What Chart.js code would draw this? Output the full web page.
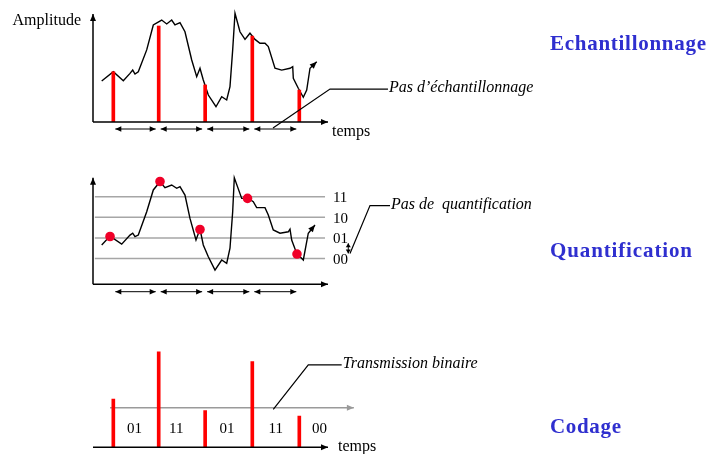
<!DOCTYPE html>
<html>
<head>
<meta charset="utf-8">
<script src="https://cdn.jsdelivr.net/npm/chart.js@4.4.0/dist/chart.umd.min.js"></script>
<style>
    html, body { margin: 0; padding: 0; background: #fff; overflow: hidden; }
    .panel { position: absolute; left: 0; width: 709px; }
</style>
</head>
<body>
<div class="panel" style="top:0;height:150px"><canvas id="chartEch"></canvas></div>
<div class="panel" style="top:150px;height:160px"><canvas id="chartQuant"></canvas></div>
<div class="panel" style="top:310px;height:144px"><canvas id="chartCode"></canvas></div>
<script>
    // temps en periodes d'echantillonnage, amplitude en pas de quantification
    var sampleTimes = [0.437, 1.413, 2.412, 3.426, 4.437];
    var sampleValues = [2.44, 4.66, 1.80, 4.17, 1.55];

    // signal analogique (panneau echantillonnage)
    var signalTimes = [0.187, 0.437, 0.652, 0.796, 0.854, 0.903, 0.974, 1.155, 1.297, 1.477, 1.585, 1.692, 1.763, 1.871, 1.978,
        2.123, 2.230, 2.301, 2.372, 2.480, 2.645, 2.768, 2.875, 2.946, 3.004, 3.054, 3.161, 3.269, 3.376, 3.484, 3.591, 3.699, 3.770, 3.914,
        4.058, 4.237, 4.295, 4.308, 4.415, 4.523, 4.596, 4.667, 4.811];
    var signalAmp = [1.99, 2.44, 2.00, 2.36, 2.52, 2.33, 2.44, 3.50, 4.71, 4.95, 4.76, 4.95, 4.71, 4.82, 4.38,
        3.01, 2.20, 2.61, 2.04, 1.31, 0.74, 1.23, 1.07, 1.72, 3.50, 5.28, 4.38, 4.01, 4.31, 4.01, 3.82, 3.82, 3.66, 2.61,
        2.52, 2.61, 2.69, 2.12, 1.64, 1.20, 1.55, 2.61, 2.93];

    // signal tel que trace dans le panneau quantification
    var signalTimes2 = [0.187, 0.366, 0.617, 0.796, 0.854, 0.903, 0.974, 1.155, 1.297, 1.441, 1.548, 1.692, 1.800, 1.871, 1.978,
        2.086, 2.215, 2.301, 2.372, 2.480, 2.624, 2.768, 2.875, 2.946, 3.004, 3.039, 3.198, 3.340, 3.447, 3.520, 3.699, 3.770, 3.877,
        4.022, 4.200, 4.237, 4.273, 4.381, 4.523, 4.630, 4.774];
    var signalAmp2 = [1.91, 2.34, 1.95, 2.39, 2.48, 2.31, 2.39, 3.52, 4.58, 4.98, 4.69, 4.82, 4.66, 4.74, 4.33,
        3.20, 2.15, 2.68, 1.91, 1.34, 0.69, 1.18, 1.02, 1.75, 3.52, 5.17, 4.17, 4.17, 4.01, 3.72, 3.72, 3.36, 2.64,
        2.48, 2.55, 2.68, 2.15, 1.50, 1.18, 2.48, 2.88];

    var dotTimes = [0.366, 1.441, 2.301, 3.323, 4.387];
    var dotValues = [2.32, 4.99, 2.66, 4.17, 1.47];

    var levels = [1.25, 2.25, 3.25, 4.25];
    var levelLabels = ['00', '01', '10', '11'];

    var pulseValues = [2.34, 4.64, 1.78, 4.16, 1.52];
    var codes = ['01', '11', '01', '11', '00'];
    var codeTimes = [0.89, 1.79, 2.88, 3.93, 4.87];

    var SERIF = "'Liberation Serif', 'Times New Roman', serif";
    var BLUE = '#2f2fcf';
    var RED = '#ff0000';

    function points(xs, ys) {
        return xs.map(function (x, i) { return {x: x, y: ys[i]}; });
    }

    function head(ctx, x1, y1, x2, y2, len, half) {
        var ang = Math.atan2(y2 - y1, x2 - x1);
        ctx.beginPath();
        ctx.moveTo(x2, y2);
        ctx.lineTo(x2 - len * Math.cos(ang) + half * Math.sin(ang), y2 - len * Math.sin(ang) - half * Math.cos(ang));
        ctx.lineTo(x2 - len * Math.cos(ang) - half * Math.sin(ang), y2 - len * Math.sin(ang) + half * Math.cos(ang));
        ctx.closePath();
        ctx.fill();
    }

    function arrowLine(ctx, x1, y1, x2, y2, len, half, both) {
        ctx.beginPath();
        ctx.moveTo(x1, y1);
        ctx.lineTo(x2, y2);
        ctx.stroke();
        head(ctx, x1, y1, x2, y2, len, half);
        if (both) head(ctx, x2, y2, x1, y1, len, half);
    }

    function axes(ctx, area, withY) {
        ctx.strokeStyle = '#000';
        ctx.fillStyle = '#000';
        ctx.lineWidth = 1.5;
        arrowLine(ctx, area.left, area.bottom, area.right, area.bottom, 7, 3);
        if (withY) arrowLine(ctx, area.left, area.bottom, area.left, area.top, 7, 3);
    }

    function periodArrows(ctx, xs, y) {
        ctx.strokeStyle = '#000';
        ctx.fillStyle = '#000';
        ctx.lineWidth = 1;
        for (var i = 0; i < sampleTimes.length - 1; i++) {
            var x1 = xs.getPixelForValue(sampleTimes[i]) + 2;
            var x2 = xs.getPixelForValue(sampleTimes[i + 1]) - 3;
            arrowLine(ctx, x1, y, x2, y, 6, 2.8, true);
        }
    }

    function signalHead(chart, idx) {
        var pts = chart.getDatasetMeta(idx).data;
        var a = pts[pts.length - 2], b = pts[pts.length - 1];
        chart.ctx.fillStyle = '#000';
        head(chart.ctx, a.x, a.y, b.x, b.y, 7, 3);
    }

    function leader(chart, pts, label) {
        var ctx = chart.ctx, xs = chart.scales.x, ys = chart.scales.y;
        ctx.strokeStyle = '#000';
        ctx.lineWidth = 1.2;
        ctx.beginPath();
        pts.forEach(function (p, i) {
            var px = xs.getPixelForValue(p[0]), py = ys.getPixelForValue(p[1]);
            if (i === 0) ctx.moveTo(px, py); else ctx.lineTo(px, py);
        });
        ctx.stroke();
        var last = pts[pts.length - 1];
        ctx.fillStyle = '#000';
        ctx.font = 'italic 16px ' + SERIF;
        ctx.textAlign = 'left';
        ctx.textBaseline = 'middle';
        ctx.fillText(label, xs.getPixelForValue(last[0]) + 1, ys.getPixelForValue(last[1]) - 1);
    }

    function label(chart, text, t, v, font, align) {
        var ctx = chart.ctx;
        ctx.fillStyle = '#000';
        ctx.font = font;
        ctx.textAlign = align || 'left';
        ctx.textBaseline = 'middle';
        ctx.fillText(text, chart.scales.x.getPixelForValue(t), chart.scales.y.getPixelForValue(v));
    }

    function title(ctx, text, x, y, width) {
        ctx.font = 'bold 21px ' + SERIF;
        ctx.fillStyle = BLUE;
        ctx.textAlign = 'left';
        ctx.textBaseline = 'middle';
        var w = ctx.measureText(text).width;
        var sp = (width - w) / (text.length - 1);
        for (var i = 0; i < text.length; i++) {
            ctx.fillText(text[i], x, y);
            x += ctx.measureText(text[i]).width + sp;
        }
    }

    function baseOptions(pad, ymax) {
        return {
            responsive: true,
            maintainAspectRatio: false,
            animation: false,
            layout: {padding: pad},
            plugins: {legend: {display: false}, tooltip: {enabled: false}},
            scales: {
                x: {type: 'linear', min: 0, max: 5.054, offset: false, display: false},
                y: {type: 'linear', min: 0, max: ymax, display: false}
            }
        };
    }

    function loadCharts() {
        // Echantillonnage
        new Chart(document.getElementById('chartEch').getContext('2d'), {
            type: 'scatter',
            data: {
                datasets: [{
                    type: 'bar',
                    data: points(sampleTimes, sampleValues),
                    backgroundColor: RED,
                    barThickness: 3,
                    grouped: false,
                    order: 0
                }, {
                    type: 'line',
                    data: points(signalTimes, signalAmp),
                    borderColor: '#000',
                    borderWidth: 1.4,
                    pointRadius: 0,
                    tension: 0,
                    clip: false,
                    order: 1
                }]
            },
            options: baseOptions({left: 93, right: 381, top: 14, bottom: 28}, 5.243),
            plugins: [{
                id: 'echDecor',
                afterDatasetsDraw: function (chart) {
                    var ctx = chart.ctx, area = chart.chartArea;
                    ctx.save();
                    axes(ctx, area, true);
                    periodArrows(ctx, chart.scales.x, area.bottom + 7);
                    signalHead(chart, 1);
                    leader(chart, [[3.871, -0.29], [5.097, 1.60], [6.344, 1.60]], 'Pas d\u2019\u00e9chantillonnage');
                    label(chart, 'temps', 5.14, -0.47, '16px ' + SERIF);
                    ctx.fillStyle = '#000';
                    ctx.font = '16px ' + SERIF;
                    ctx.textAlign = 'right';
                    ctx.textBaseline = 'middle';
                    ctx.fillText('Amplitude', area.left - 12, area.top + 7);
                    title(ctx, 'Echantillonnage', 550, 45, 156);
                    ctx.restore();
                }
            }]
        });

        // Quantification
        var quantSets = [{
            type: 'scatter',
            data: points(dotTimes, dotValues),
            backgroundColor: '#f00028',
            borderWidth: 0,
            pointRadius: 4.8,
            clip: false,
            order: 0
        }, {
            type: 'line',
            data: points(signalTimes2, signalAmp2),
            borderColor: '#000',
            borderWidth: 1.4,
            pointRadius: 0,
            tension: 0,
            clip: false,
            order: 1
        }];
        levels.forEach(function (lv) {
            quantSets.push({
                type: 'line',
                data: [{x: 0.04, y: lv}, {x: 4.99, y: lv}],
                borderColor: '#a6a6a6',
                borderWidth: 1.5,
                pointRadius: 0,
                order: 2
            });
        });
        new Chart(document.getElementById('chartQuant').getContext('2d'), {
            type: 'scatter',
            data: {datasets: quantSets},
            options: baseOptions({left: 93, right: 381, top: 27.7, bottom: 25.7}, 5.175),
            plugins: [{
                id: 'quantDecor',
                afterDatasetsDraw: function (chart) {
                    var ctx = chart.ctx, area = chart.chartArea, xs = chart.scales.x, ys = chart.scales.y;
                    ctx.save();
                    axes(ctx, area, true);
                    periodArrows(ctx, xs, area.bottom + 7.4);
                    signalHead(chart, 1);
                    levels.forEach(function (lv, i) {
                        label(chart, levelLabels[i], 5.16, lv - 0.07, '15px ' + SERIF);
                    });
                    ctx.fillStyle = '#000';
                    ctx.strokeStyle = '#000';
                    ctx.lineWidth = 1;
                    arrowLine(ctx, xs.getPixelForValue(5.49), ys.getPixelForValue(1.99),
                        xs.getPixelForValue(5.49), ys.getPixelForValue(1.50), 4, 2.5, true);
                    leader(chart, [[5.527, 1.50], [5.957, 3.82], [6.387, 3.82]], 'Pas de  quantification');
                    title(ctx, 'Quantification', 550, 101.7, 142);
                    ctx.restore();
                }
            }]
        });

        // Codage
        new Chart(document.getElementById('chartCode').getContext('2d'), {
            type: 'scatter',
            data: {
                datasets: [{
                    type: 'bar',
                    data: points(sampleTimes, pulseValues),
                    backgroundColor: RED,
                    barThickness: 3,
                    grouped: false
                }]
            },
            options: baseOptions({left: 93, right: 381, top: 29.15, bottom: 6.7}, 5.25),
            plugins: [{
                id: 'codeDecor',
                beforeDatasetsDraw: function (chart) {
                    var ctx = chart.ctx, xs = chart.scales.x, ys = chart.scales.y;
                    ctx.save();
                    ctx.strokeStyle = '#9a9a9a';
                    ctx.fillStyle = '#9a9a9a';
                    ctx.lineWidth = 1.5;
                    arrowLine(ctx, xs.getPixelForValue(0.366), ys.getPixelForValue(1.92),
                        xs.getPixelForValue(5.61), ys.getPixelForValue(1.92), 7, 3);
                    ctx.restore();
                },
                afterDatasetsDraw: function (chart) {
                    var ctx = chart.ctx, area = chart.chartArea;
                    ctx.save();
                    axes(ctx, area, false);
                    codes.forEach(function (c, i) {
                        label(chart, c, codeTimes[i], 0.87, '15px ' + SERIF, 'center');
                    });
                    label(chart, 'temps', 5.269, 0.03, '16px ' + SERIF);
                    leader(chart, [[3.877, 1.84], [4.63, 4.0], [5.348, 4.0]], 'Transmission binaire');
                    title(ctx, 'Codage', 550, 118, 71);
                    ctx.restore();
                }
            }]
        });
    }

    loadCharts();
</script>
</body>
</html>
